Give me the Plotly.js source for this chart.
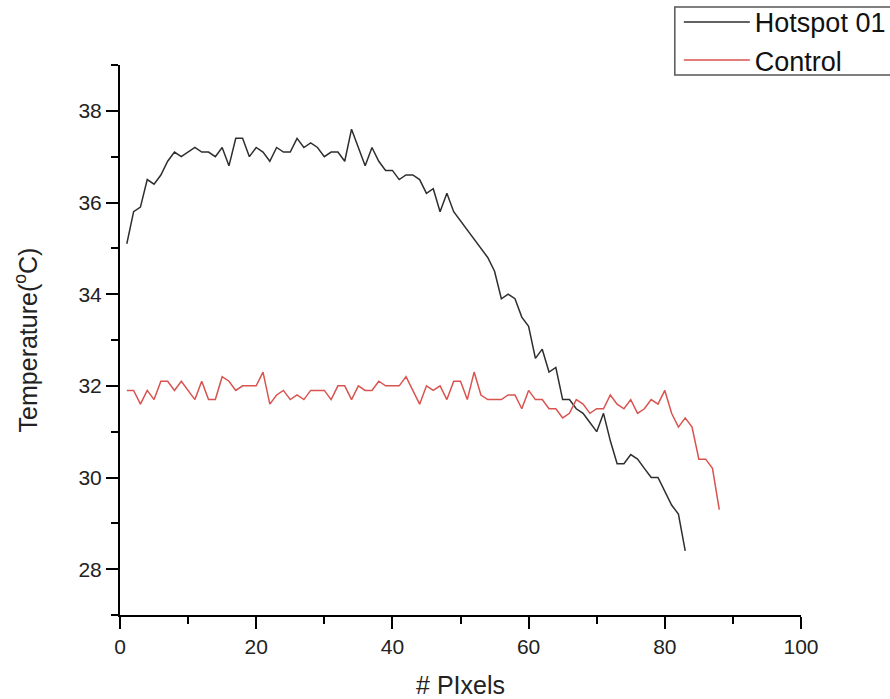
<!DOCTYPE html>
<html>
<head>
<meta charset="utf-8">
<script src="https://cdn.plot.ly/plotly-3.0.1.min.js"></script>
<style>
  html, body { margin: 0; padding: 0; background: #ffffff; }
  #chart { width: 890px; height: 699px; }
</style>
</head>
<body>
<div id="chart"></div>
<script>
// ---- Data ----
const hotspotX = [1,2,3,4,5,6,7,8,9,10,11,12,13,14,15,16,17,18,19,20,
  21,22,23,24,25,26,27,28,29,30,31,32,33,34,35,36,37,38,39,40,
  41,42,43,44,45,46,47,48,49,50,51,52,53,54,55,56,57,58,59,60,
  61,62,63,64,65,66,67,68,69,70,71,72,73,74,75,76,77,78,79,80,
  81,82,83];
const hotspotY = [35.1,35.8,35.9,36.5,36.4,36.6,36.9,37.1,37.0,37.1,
  37.2,37.1,37.1,37.0,37.2,36.8,37.4,37.4,37.0,37.2,
  37.1,36.9,37.2,37.1,37.1,37.4,37.2,37.3,37.2,37.0,
  37.1,37.1,36.9,37.6,37.2,36.8,37.2,36.9,36.7,36.7,
  36.5,36.6,36.6,36.5,36.2,36.3,35.8,36.2,35.8,35.6,
  35.4,35.2,35.0,34.8,34.5,33.9,34.0,33.9,33.5,33.3,
  32.6,32.8,32.3,32.4,31.7,31.7,31.5,31.4,31.2,31.0,
  31.4,30.8,30.3,30.3,30.5,30.4,30.2,30.0,30.0,29.7,
  29.4,29.2,28.4];

const controlX = [1,2,3,4,5,6,7,8,9,10,11,12,13,14,15,16,17,18,19,20,
  21,22,23,24,25,26,27,28,29,30,31,32,33,34,35,36,37,38,39,40,
  41,42,43,44,45,46,47,48,49,50,51,52,53,54,55,56,57,58,59,60,
  61,62,63,64,65,66,67,68,69,70,71,72,73,74,75,76,77,78,79,80,
  81,82,83,84,85,86,87,88];
const controlY = [31.9,31.9,31.6,31.9,31.7,32.1,32.1,31.9,32.1,31.9,
  31.7,32.1,31.7,31.7,32.2,32.1,31.9,32.0,32.0,32.0,
  32.3,31.6,31.8,31.9,31.7,31.8,31.7,31.9,31.9,31.9,
  31.7,32.0,32.0,31.7,32.0,31.9,31.9,32.1,32.0,32.0,
  32.0,32.2,31.9,31.6,32.0,31.9,32.0,31.7,32.1,32.1,
  31.7,32.3,31.8,31.7,31.7,31.7,31.8,31.8,31.5,31.9,
  31.7,31.7,31.5,31.5,31.3,31.4,31.7,31.6,31.4,31.5,
  31.5,31.8,31.6,31.5,31.7,31.4,31.5,31.7,31.6,31.9,
  31.4,31.1,31.3,31.1,30.4,30.4,30.2,29.3];

const seriesNames = ['Hotspot 01', 'Control'];
const xTitle = '# PIxels';
const yTitle = 'Temperature(<sup>o</sup>C)';

// ---- Chart ----
const FONT = 'Liberation Sans, Arial, sans-serif';

const traces = [
  {
    x: hotspotX, y: hotspotY, name: seriesNames[0],
    type: 'scatter', mode: 'lines',
    line: { color: '#2e2e2e', width: 1.5 }
  },
  {
    x: controlX, y: controlY, name: seriesNames[1],
    type: 'scatter', mode: 'lines',
    line: { color: '#d9534f', width: 1.5 }
  }
];

const axisCommon = {
  showline: true, linecolor: '#000', linewidth: 2,
  ticks: 'outside', ticklen: 12, tickwidth: 2, tickcolor: '#000',
  showgrid: false, zeroline: false,
  tickfont: { family: FONT, size: 21, color: '#222' },
  automargin: false
};

const layout = {
  width: 890, height: 699,
  margin: { l: 120, r: 89, t: 65, b: 84, autoexpand: false },
  paper_bgcolor: '#fff', plot_bgcolor: '#fff',
  font: { family: FONT, color: '#222' },
  showlegend: true,
  legend: {
    x: 0.8206, y: 1.122, xanchor: 'left', yanchor: 'top',
    font: { family: FONT, size: 27, color: '#111' },
    borderwidth: 0, bgcolor: 'rgba(0,0,0,0)',
    itemwidth: 66, tracegroupgap: 0
  },
  // legend frame (open on the right, cut by the figure edge as in the reference)
  shapes: [{
    type: 'rect', xref: 'paper', yref: 'paper',
    x0: 0.8147, x1: 1.2, y0: 0.9818, y1: 1.1055,
    line: { color: '#555', width: 1.5 }, fillcolor: 'rgba(0,0,0,0)', layer: 'below'
  }],
  xaxis: Object.assign({}, axisCommon, {
    range: [0, 100], dtick: 20, tick0: 0,
    minor: { dtick: 10, ticks: 'outside', ticklen: 7, tickwidth: 2, tickcolor: '#000', showgrid: false },
    title: { text: xTitle, font: { family: FONT, size: 25, color: '#222' }, standoff: 20 }
  }),
  yaxis: Object.assign({}, axisCommon, {
    range: [27, 39], dtick: 2, tick0: 0,
    minor: { dtick: 1, ticks: 'outside', ticklen: 7, tickwidth: 2, tickcolor: '#000', showgrid: false },
    title: { text: yTitle, font: { family: FONT, size: 25, color: '#222' }, standoff: 34 }
  })
};

Plotly.newPlot('chart', traces, layout, { displayModeBar: false, staticPlot: true });
</script>
</body>
</html>
